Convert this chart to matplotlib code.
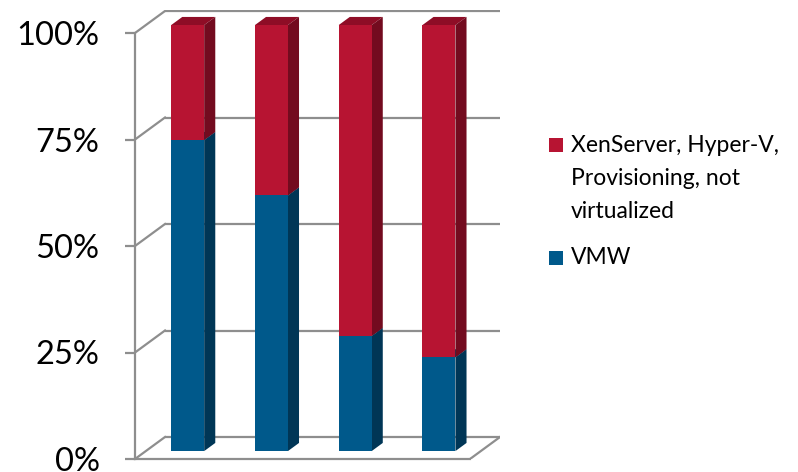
import matplotlib
matplotlib.use("Agg")
import matplotlib.pyplot as plt
from matplotlib.patches import Polygon, Rectangle

# Dados (fração de cada barra)
categorias = [0, 1, 2, 3]
vmw = [0.73, 0.60, 0.27, 0.22]
outros = [0.27, 0.40, 0.73, 0.78]
series_nomes = ["XenServer, Hyper-V,\nProvisioning, not\nvirtualized", "VMW"]
yticks = [0, 0.25, 0.5, 0.75, 1.0]
ytick_labels = ["0%", "25%", "50%", "75%", "100%"]

# Cores
AZUL = "#00598B"
AZUL_LADO = "#003656"
AZUL_TOPO = "#00466E"
VERM = "#B71432"
VERM_LADO = "#730B1F"
VERM_TOPO = "#8E0D26"
CINZA = "#8E8E8E"

# Geometria 3D (unidades de dados)
W, H = 798, 472
PX_X = 83.75          # pixels por categoria
PX_Y = 426.0          # pixels por 100%
DX = 30 / PX_X        # profundidade total em x
DY = 22 / PX_Y        # profundidade total em y
BAR_W = 33 / PX_X
D0, D1 = 0.36, 0.73   # posição da barra na profundidade

plt.rcParams['font.family'] = ['Lato', 'DejaVu Sans']

fig = plt.figure(figsize=(W / 100, H / 100), dpi=100)
ax = fig.add_axes([135 / W, 13 / H, 365 / W, 449 / H])
ax.set_xlim(-0.5, -0.5 + 365 / PX_X)
ax.set_ylim(0, 449 / PX_Y)
ax.patch.set_alpha(0)

for s in ["top", "right", "bottom"]:
    ax.spines[s].set_visible(False)
ax.spines["left"].set_bounds(0, 1)
ax.spines["left"].set_color(CINZA)
ax.spines["left"].set_linewidth(1.6)
ax.set_xticks([])
ax.set_yticks(yticks)
ax.set_yticklabels(ytick_labels, fontsize=23.5)
ax.tick_params(axis="y", length=7.5, width=1.6, color=CINZA, pad=18)

x_esq = -0.5
x_dir = 3.5

# parede de fundo + diagonais
for v in yticks:
    ax.plot([x_esq + DX, x_dir + DX], [v + DY, v + DY], color=CINZA, lw=1.6,
            solid_capstyle="butt", zorder=1)
    ax.plot([x_esq, x_esq + DX], [v, v + DY], color=CINZA, lw=1.6, zorder=1)
# chão
ax.plot([x_esq, x_dir], [0, 0], color=CINZA, lw=1.6, zorder=1, clip_on=False)
ax.plot([x_dir, x_dir + DX], [0, DY], color=CINZA, lw=1.6, zorder=1)


def segmento(xc, y0, y1, frente, lado, topo, z):
    xl = xc - BAR_W / 2 + D0 * DX
    xr = xc + BAR_W / 2 + D0 * DX
    yb = y0 + D0 * DY
    yt = y1 + D0 * DY
    ddx = (D1 - D0) * DX
    ddy = (D1 - D0) * DY
    ax.add_patch(Polygon([(xl, yt), (xr, yt), (xr + ddx, yt + ddy), (xl + ddx, yt + ddy)],
                         closed=True, facecolor=topo, edgecolor="none", zorder=z))
    ax.add_patch(Polygon([(xr, yb), (xr, yt), (xr + ddx, yt + ddy), (xr + ddx, yb + ddy)],
                         closed=True, facecolor=lado, edgecolor="none", zorder=z))
    ax.add_patch(Rectangle((xl, yb), xr - xl, yt - yb, facecolor=frente,
                           edgecolor="none", zorder=z))


for c, a, o in zip(categorias, vmw, outros):
    segmento(c, 0, a, AZUL, AZUL_LADO, AZUL_TOPO, 3)
    segmento(c, a, a + o, VERM, VERM_LADO, VERM_TOPO, 4)

# legenda
fig.patches.append(Rectangle((549 / W, 1 - 152 / H), 14 / W, 14 / H, facecolor=VERM,
                             transform=fig.transFigure, figure=fig))
fig.text(571 / W, 1 - 135 / H, series_nomes[0], fontsize=16.5, va="top", ha="left",
         linespacing=1.7)
fig.patches.append(Rectangle((549 / W, 1 - 265 / H), 14 / W, 14 / H, facecolor=AZUL,
                             transform=fig.transFigure, figure=fig))
fig.text(571 / W, 1 - 258 / H, series_nomes[1], fontsize=16.5, va="center", ha="left")

fig.savefig("out.png", dpi=100)
